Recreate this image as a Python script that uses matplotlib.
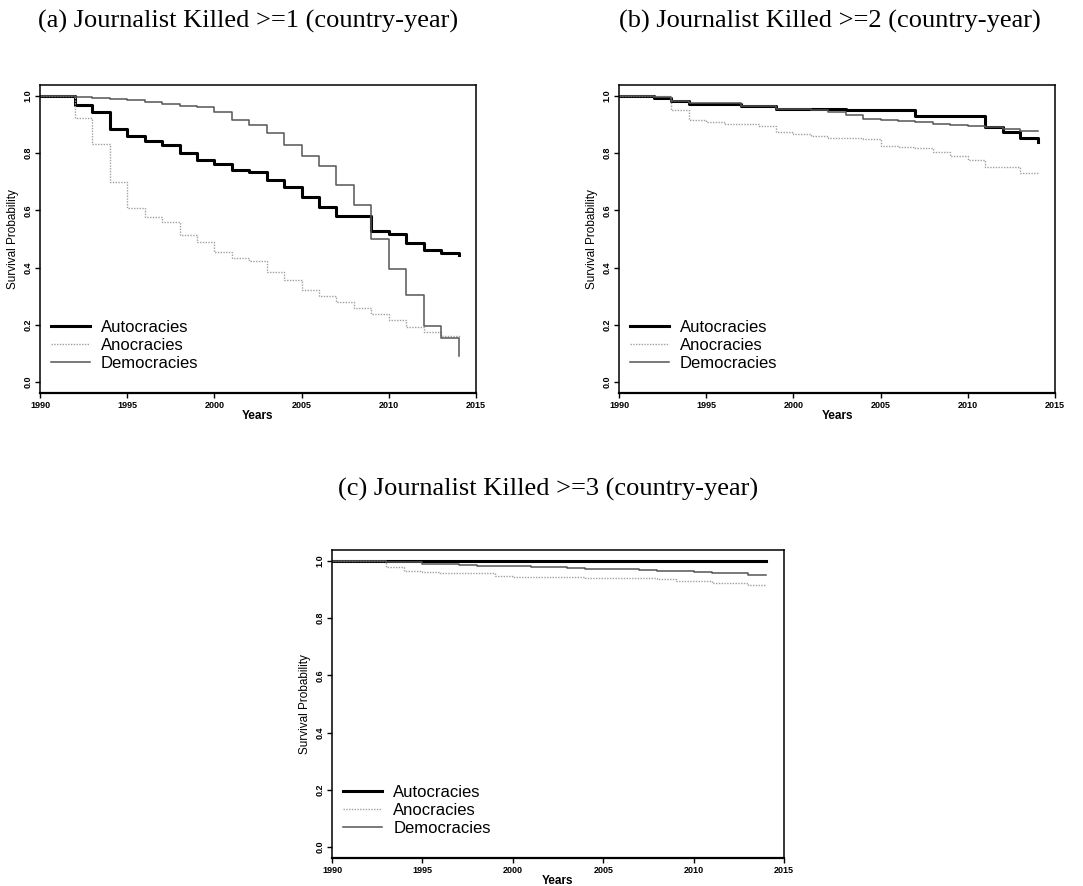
import matplotlib
matplotlib.use("Agg")
import matplotlib.pyplot as plt
import numpy as np

# years on the x axis (one value per year, step changes at each year)
years = list(range(1990, 2015))

# (a) Journalist Killed >= 1
auto_a = [1.0, 1.0, 0.969, 0.944, 0.885, 0.860, 0.844, 0.829, 0.802, 0.777, 0.762, 0.740, 0.733,
          0.707, 0.683, 0.647, 0.612, 0.582, 0.582, 0.529, 0.516, 0.485, 0.460, 0.451, 0.445]
ano_a = [1.0, 1.0, 0.924, 0.833, 0.699, 0.610, 0.578, 0.559, 0.513, 0.490, 0.453, 0.434, 0.422,
         0.385, 0.355, 0.321, 0.301, 0.279, 0.259, 0.239, 0.216, 0.191, 0.175, 0.161, 0.158]
dem_a = [1.0, 1.0, 0.998, 0.993, 0.990, 0.986, 0.980, 0.972, 0.966, 0.962, 0.945, 0.915, 0.899,
         0.872, 0.828, 0.791, 0.754, 0.688, 0.618, 0.499, 0.396, 0.303, 0.196, 0.155, 0.090]

# (b) Journalist Killed >= 2
auto_b = [1.0, 1.0, 0.994, 0.983, 0.973, 0.971, 0.971, 0.966, 0.966, 0.956, 0.955, 0.953, 0.953,
          0.950, 0.950, 0.950, 0.950, 0.930, 0.930, 0.930, 0.930, 0.892, 0.874, 0.854, 0.839]
ano_b = [1.0, 1.0, 1.0, 0.952, 0.917, 0.908, 0.902, 0.902, 0.895, 0.875, 0.868, 0.859, 0.854,
         0.854, 0.850, 0.824, 0.822, 0.818, 0.803, 0.791, 0.775, 0.753, 0.751, 0.730, 0.730]
dem_b = [1.0, 1.0, 0.995, 0.983, 0.975, 0.975, 0.975, 0.965, 0.965, 0.956, 0.955, 0.952, 0.943,
         0.935, 0.921, 0.916, 0.912, 0.908, 0.902, 0.898, 0.894, 0.892, 0.884, 0.877, 0.877]

# (c) Journalist Killed >= 3
auto_c = [1.0] * 25
ano_c = [1.0, 1.0, 1.0, 0.978, 0.964, 0.960, 0.957, 0.957, 0.957, 0.949, 0.944, 0.944, 0.944,
         0.944, 0.940, 0.940, 0.940, 0.940, 0.936, 0.929, 0.929, 0.922, 0.922, 0.916, 0.916]
dem_c = [1.0, 1.0, 0.999, 0.995, 0.995, 0.991, 0.989, 0.985, 0.984, 0.983, 0.981, 0.980, 0.978,
         0.975, 0.973, 0.972, 0.971, 0.968, 0.966, 0.964, 0.961, 0.959, 0.957, 0.952, 0.952]

titles = ["(a) Journalist Killed >=1 (country-year)",
          "(b) Journalist Killed >=2 (country-year)",
          "(c) Journalist Killed >=3 (country-year)"]
labels = ["Autocracies", "Anocracies", "Democracies"]

plt.rcParams['font.family'] = ['Liberation Sans', 'DejaVu Sans']

fig = plt.figure(figsize=(10.83, 8.86), dpi=100)
W, H = 1083.0, 886.0


def make_axes(left, top, right, bottom):
    return fig.add_axes([left / W, 1 - bottom / H, (right - left) / W, (bottom - top) / H])


def draw_panel(ax, auto, ano, dem):
    ax.step(years, auto, where='post', color='black', lw=2.2, label=labels[0])
    ax.step(years, ano, where='post', color='#a0a0a0', lw=1.0, ls=(0, (1, 1)), label=labels[1])
    ax.step(years, dem, where='post', color='#555555', lw=1.1, label=labels[2])
    ax.set_xlim(1990, 2015)
    ax.set_ylim(-0.0385, 1.0385)
    ax.set_xticks([1990, 1995, 2000, 2005, 2010, 2015])
    ax.set_yticks([0.0, 0.2, 0.4, 0.6, 0.8, 1.0])
    ax.set_yticklabels(["0.0", "0.2", "0.4", "0.6", "0.8", "1.0"], rotation=90, va='center')
    ax.tick_params(labelsize=6.5, length=3.5, width=1.0, pad=2)
    for lab in ax.get_xticklabels() + ax.get_yticklabels():
        lab.set_fontweight('bold')
    for sp in ax.spines.values():
        sp.set_linewidth(1.1)
    ax.spines['bottom'].set_linewidth(1.6)
    ax.set_xlabel("Years", fontsize=8.5, fontweight='bold', labelpad=0)
    ax.set_ylabel("Survival Probability", fontsize=8.5, labelpad=3)
    ax.legend(loc='lower left', bbox_to_anchor=(0.025, 0.072), frameon=False, fontsize=12,
              handlelength=2.35, handletextpad=0.65, labelspacing=0.17, borderpad=0,
              borderaxespad=0)


ax_a = make_axes(40, 85, 476, 393)
ax_b = make_axes(619, 85, 1055, 393)
ax_c = make_axes(332, 550, 784, 858)

draw_panel(ax_a, auto_a, ano_a, dem_a)
draw_panel(ax_b, auto_b, ano_b, dem_b)
draw_panel(ax_c, auto_c, ano_c, dem_c)

fig.text(248 / W, 1 - 21 / H, titles[0], family='Liberation Serif', fontsize=19, ha='center', va='center')
fig.text(830 / W, 1 - 21 / H, titles[1], family='Liberation Serif', fontsize=19, ha='center', va='center')
fig.text(548 / W, 1 - 489 / H, titles[2], family='Liberation Serif', fontsize=19, ha='center', va='center')

fig.savefig("out.png", dpi=100)
